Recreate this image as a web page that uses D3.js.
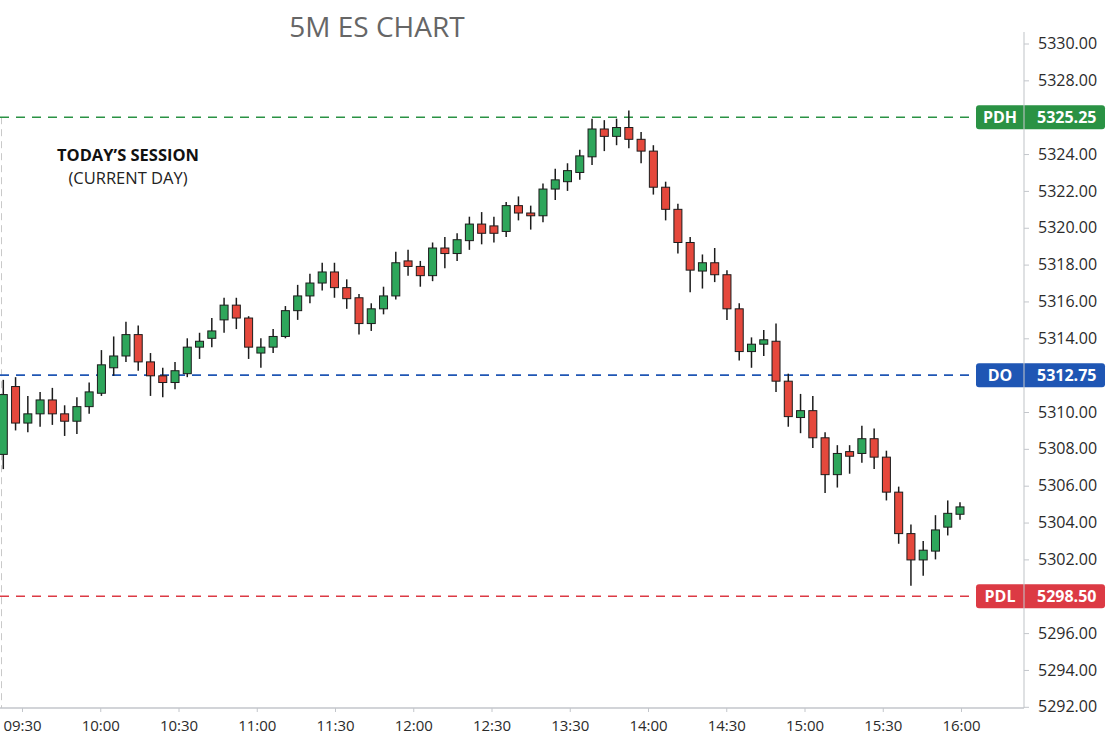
<!DOCTYPE html>
<html>
<head>
<meta charset="utf-8">
<script src="https://cdn.jsdelivr.net/npm/d3@7"></script>
<style>
  body { margin: 0; background: #fff; }
  svg { display: block; font-family: 'Open Sans', sans-serif; }
</style>
</head>
<body>
<div id="chart"></div>
<script>
// 5 minute bars, 09:30 -> 16:00
const opens = [
  5307.7, 5311.9, 5309.4, 5309.9, 5310.9, 5309.9, 5309.5, 5310.4, 5311.4, 5313.0,
  5313.4, 5314.2, 5313.2, 5312.7, 5312.2, 5312.8, 5313.7, 5314.0, 5315.0, 5315.8,
  5315.1, 5313.5, 5313.7, 5314.1, 5315.5, 5316.3, 5317.0, 5317.6, 5316.75, 5316.2,
  5314.8, 5315.6, 5316.3, 5318.2, 5317.9, 5317.4, 5318.9, 5318.6, 5319.3, 5320.2,
  5320.1, 5319.8, 5321.2, 5320.8, 5320.65, 5322.1, 5322.5, 5323.0, 5323.85, 5324.85,
  5324.6, 5324.9, 5324.5, 5324.1, 5322.2, 5321.0, 5319.2, 5317.65, 5318.1, 5317.45,
  5315.6, 5313.55, 5313.8, 5313.9, 5312.3, 5309.7, 5310.1, 5308.6, 5306.6, 5307.85,
  5307.75, 5308.55, 5307.55, 5305.65, 5303.4, 5301.95, 5302.45, 5303.75, 5304.45
]
const highs = [
  5312.4, 5312.6, 5311.2, 5311.5, 5311.8, 5310.5, 5311.1, 5312.2, 5313.6, 5314.1,
  5314.9, 5314.7, 5313.5, 5313.0, 5313.2, 5314.0, 5314.3, 5315.1, 5316.2, 5316.2,
  5315.2, 5314.0, 5314.5, 5315.75, 5316.9, 5317.5, 5318.1, 5318.1, 5317.2, 5316.4,
  5315.9, 5316.8, 5318.7, 5318.8, 5318.2, 5319.2, 5319.5, 5319.7, 5320.6, 5320.85,
  5320.6, 5321.4, 5321.7, 5321.2, 5322.4, 5323.2, 5323.5, 5324.15, 5325.2, 5325.15,
  5325.2, 5325.75, 5324.75, 5324.3, 5322.5, 5321.3, 5319.5, 5318.55, 5318.9, 5317.7,
  5315.9, 5314.05, 5314.45, 5314.8, 5312.8, 5311.35, 5311.2, 5308.9, 5308.2, 5308.2,
  5309.25, 5309.1, 5307.9, 5305.95, 5303.9, 5303.0, 5304.4, 5305.2, 5305.1
]
const lows = [
  5306.9, 5309.0, 5308.9, 5309.2, 5309.3, 5308.7, 5308.8, 5309.9, 5311.2, 5312.7,
  5313.2, 5312.9, 5311.2, 5311.1, 5311.7, 5312.6, 5313.3, 5313.7, 5314.3, 5314.5,
  5313.3, 5313.0, 5313.5, 5314.0, 5315.0, 5315.9, 5316.6, 5316.2, 5315.6, 5314.2,
  5314.4, 5315.3, 5316.1, 5317.4, 5316.8, 5317.1, 5317.8, 5318.2, 5318.8, 5319.1,
  5319.2, 5319.5, 5320.4, 5319.9, 5320.3, 5321.5, 5322.0, 5322.6, 5323.4, 5324.1,
  5324.3, 5324.2, 5323.5, 5321.8, 5320.4, 5318.6, 5316.5, 5316.7, 5317.05, 5315.0,
  5313.25, 5313.0, 5313.4, 5311.5, 5309.2, 5308.85, 5308.05, 5305.6, 5305.9, 5306.65,
  5307.25, 5306.9, 5305.2, 5302.85, 5299.5, 5300.45, 5302.0, 5303.3, 5304.15
]
const closes = [
  5311.3, 5309.4, 5309.9, 5310.9, 5309.9, 5309.5, 5310.4, 5311.5, 5313.1, 5313.4,
  5314.2, 5313.2, 5312.7, 5312.2, 5312.9, 5313.7, 5313.9, 5314.4, 5315.8, 5315.1,
  5313.7, 5313.7, 5314.1, 5315.5, 5316.3, 5317.0, 5317.6, 5316.75, 5316.15, 5314.8,
  5315.6, 5316.3, 5318.1, 5317.9, 5317.4, 5318.9, 5318.6, 5319.35, 5320.2, 5319.7,
  5319.7, 5321.2, 5320.8, 5320.65, 5322.1, 5322.6, 5323.1, 5323.9, 5324.85, 5324.6,
  5324.9, 5324.5, 5324.1, 5322.2, 5321.0, 5319.2, 5317.7, 5318.1, 5317.45, 5315.6,
  5313.55, 5313.8, 5313.95, 5312.3, 5309.75, 5310.1, 5308.6, 5306.6, 5307.75, 5307.6,
  5308.55, 5307.55, 5305.65, 5303.4, 5301.95, 5302.5, 5303.6, 5304.5, 5304.85
]

const timeLabels = ['09:30', '10:00', '10:30', '11:00', '11:30', '12:00', '12:30',
  '13:30', '14:00', '14:30', '15:00', '15:30', '16:00']

const yTicks = [5330, 5328, 5324, 5322, 5320, 5318, 5316, 5314, 5310, 5308,
  5306, 5304, 5302, 5296, 5294, 5292]

const levelNames = ['PDH', 'DO', 'PDL']
const levelValues = [5325.25, 5312.75, 5298.5]
const levelColors = ['#2a9244', '#1f56b4', '#dc3a44']

const width = 1114
const height = 747
const plotRight = 1024
const plotBottom = 708

const svg = d3
  .select('#chart')
  .append('svg')
  .attr('width', width)
  .attr('height', height)

svg.append('rect').attr('width', width).attr('height', height).attr('fill', '#fff')

// price ladder: every label (ticks + level tags) gets an equal slot
const ladder = yTicks.concat(levelValues).sort(d3.descending)
const y = d3
  .scaleLinear()
  .domain(ladder)
  .range(ladder.map((d, i) => 43.5 + i * 36.85))

const x = d3
  .scalePoint()
  .domain(d3.range(opens.length))
  .range([3.3, 960])

const xTime = d3
  .scalePoint()
  .domain(timeLabels)
  .range([22, 961])

// left session marker
svg
  .append('line')
  .attr('x1', 1.5)
  .attr('x2', 1.5)
  .attr('y1', y(levelValues[0]))
  .attr('y2', plotBottom)
  .attr('stroke', '#c9c9c9')
  .attr('stroke-dasharray', '7,5')

// level lines
svg
  .selectAll('.level')
  .data(levelValues)
  .enter()
  .append('line')
  .attr('class', 'level')
  .attr('x1', 0)
  .attr('x2', 976)
  .attr('y1', d => y(d))
  .attr('y2', d => y(d))
  .attr('stroke', (d, i) => levelColors[i])
  .attr('stroke-width', 1.6)
  .attr('stroke-dasharray', '9,7')

// candles
const candles = svg
  .selectAll('.candle')
  .data(opens)
  .enter()
  .append('g')
  .attr('class', 'candle')

candles
  .append('line')
  .attr('x1', (d, i) => x(i))
  .attr('x2', (d, i) => x(i))
  .attr('y1', (d, i) => y(highs[i]))
  .attr('y2', (d, i) => y(lows[i]))
  .attr('stroke', '#1c1c1c')
  .attr('stroke-width', 1.5)

candles
  .append('rect')
  .attr('x', (d, i) => x(i) - 4)
  .attr('width', 8)
  .attr('y', (d, i) => y(Math.max(d, closes[i])))
  .attr('height', (d, i) => Math.max(1.5, Math.abs(y(d) - y(closes[i]))))
  .attr('fill', (d, i) => (closes[i] >= d ? '#2ea65b' : '#e5483c'))
  .attr('stroke', '#1c1c1c')
  .attr('stroke-width', 1)

// axes
const xAxis = svg
  .append('g')
  .attr('transform', `translate(0,${plotBottom})`)
  .call(d3.axisBottom(xTime).tickSize(4).tickPadding(8))
xAxis.select('.domain').remove()

const yAxis = svg
  .append('g')
  .attr('transform', `translate(${plotRight},0)`)
  .call(
    d3
      .axisRight(y)
      .tickValues(yTicks)
      .tickFormat(d3.format('.2f'))
      .tickSize(5)
      .tickPadding(9)
  )
yAxis.select('.domain').remove()

svg.selectAll('.tick line').attr('stroke', '#c3c6cb')
svg
  .selectAll('.tick text')
  .attr('font-size', 15)
  .attr('font-family', "'Open Sans', sans-serif")
  .attr('fill', '#2b2b2b')
yAxis.selectAll('.tick text').attr('font-size', 16)

// level tags
const tags = svg
  .selectAll('.tag')
  .data(levelValues)
  .enter()
  .append('g')
  .attr('class', 'tag')
  .attr('transform', d => `translate(0,${y(d)})`)

tags
  .append('rect')
  .attr('x', 976)
  .attr('y', -12)
  .attr('width', 129)
  .attr('height', 24)
  .attr('rx', 3)
  .attr('fill', (d, i) => levelColors[i])

tags
  .append('text')
  .attr('x', 1000)
  .attr('dy', '0.36em')
  .attr('text-anchor', 'middle')
  .attr('fill', '#fff')
  .attr('font-size', 16)
  .attr('font-weight', 'bold')
  .text((d, i) => levelNames[i])

tags
  .append('text')
  .attr('x', 1037)
  .attr('dy', '0.36em')
  .attr('fill', '#fff')
  .attr('font-size', 16)
  .attr('font-weight', 'bold')
  .text(d => d3.format('.2f')(d))

// axis frame lines on top
svg
  .append('line')
  .attr('x1', 0)
  .attr('x2', plotRight)
  .attr('y1', plotBottom)
  .attr('y2', plotBottom)
  .attr('stroke', '#c3c6cb')
  .attr('stroke-width', 1.5)

svg
  .append('line')
  .attr('x1', plotRight)
  .attr('x2', plotRight)
  .attr('y1', 32)
  .attr('y2', plotBottom)
  .attr('stroke', '#c3c6cb')
  .attr('stroke-opacity', 0.7)
  .attr('stroke-width', 1.5)

// titles
svg
  .append('text')
  .attr('x', 377)
  .attr('y', 37)
  .attr('text-anchor', 'middle')
  .attr('font-size', 28)
  .attr('fill', '#666')
  .text('5M ES CHART')

svg
  .append('text')
  .attr('x', 128)
  .attr('y', 161)
  .attr('text-anchor', 'middle')
  .attr('font-size', 16.5)
  .attr('font-weight', 'bold')
  .attr('fill', '#111')
  .text('TODAY’S SESSION')

svg
  .append('text')
  .attr('x', 128)
  .attr('y', 184)
  .attr('text-anchor', 'middle')
  .attr('font-size', 16.5)
  .attr('fill', '#222')
  .text('(CURRENT DAY)')
</script>
</body>
</html>
